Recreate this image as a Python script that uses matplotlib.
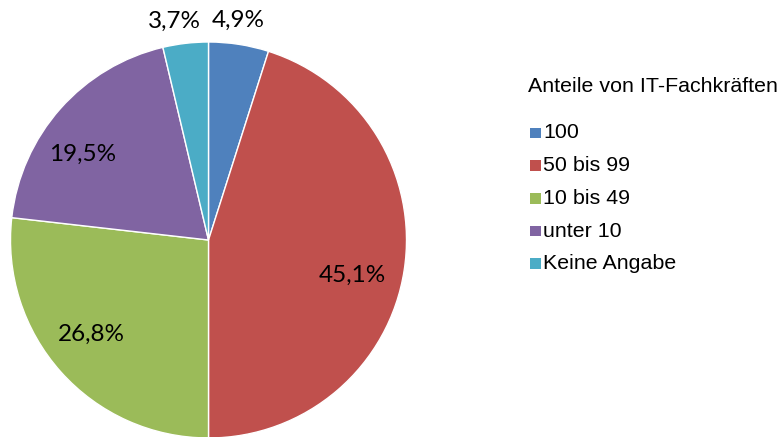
import matplotlib
matplotlib.use("Agg")
import matplotlib.pyplot as plt
from matplotlib.patches import Rectangle
import numpy as np

categories = ["100", "50 bis 99", "10 bis 49", "unter 10", "Keine Angabe"]
values = [4.9, 45.1, 26.8, 19.5, 3.7]
colors = ["#4F81BD", "#C0504D", "#9BBB59", "#8064A2", "#4BACC6"]
legend_title = "Anteile von IT-Fachkräften"

W, H = 780, 437
fig = plt.figure(figsize=(W / 100, H / 100), dpi=100)

cx, cy, R = 208.5, 240, 198
ax = fig.add_axes([(cx - R) / W, (H - cy - R) / H, 2 * R / W, 2 * R / H])
wedges, _ = ax.pie(values, colors=colors, startangle=90, counterclock=False,
                   radius=1, wedgeprops=dict(edgecolor="white", linewidth=1.0))
ax.set_xlim(-1, 1)
ax.set_ylim(-1, 1)
ax.set_aspect("auto")
ax.axis("off")

# label placement: inner labels for large slices, outer labels for small
radii = [1.12, 0.75, 0.76, 0.77, 1.12]
ang_off = [1.2, -4.8, -3.0, 7.4, 2.2]
for w, v, r, off in zip(wedges, values, radii, ang_off):
    th = np.deg2rad((w.theta1 + w.theta2) / 2 + off)
    ax.text(r * np.cos(th), r * np.sin(th), f"{v:.1f}%".replace(".", ","),
            ha="center", va="center", fontsize=17.5, family="Lato",
            color="black", clip_on=False)

# legend
fs = 15.4
fig.text(528 / W, 1 - 87 / H, legend_title, ha="left", va="center",
         fontsize=fs, family="Liberation Sans")
y0, dy = 133, 32.7
for i, (lab, c) in enumerate(zip(categories, colors)):
    y = y0 + i * dy
    fig.patches.append(Rectangle((530 / W, 1 - (y + 5.3) / H), 10.7 / W, 10.7 / H,
                                 transform=fig.transFigure, facecolor=c,
                                 edgecolor="none"))
    fig.text(543 / W, 1 - y / H, lab, ha="left", va="center",
             fontsize=fs, family="Liberation Sans")

fig.savefig("out.png", dpi=100)
